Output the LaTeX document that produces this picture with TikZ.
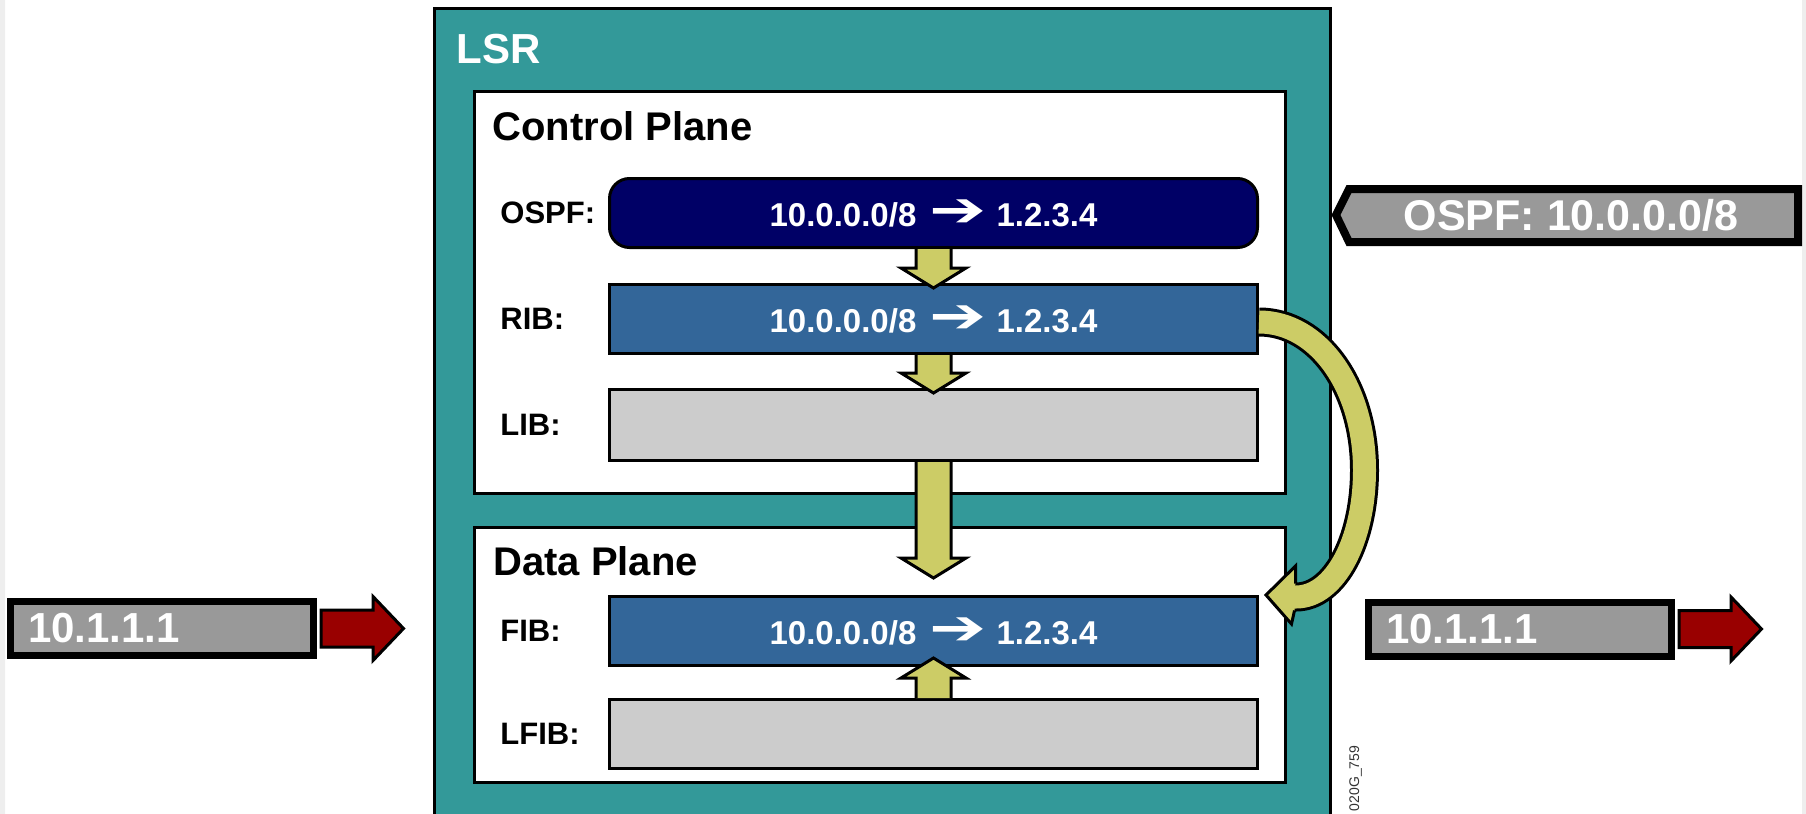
\documentclass[tikz,border=0pt]{standalone}
\usepackage{fontspec}
\setmainfont{Liberation Sans}
\newfontfamily\symfont{DejaVu Sans}
\usetikzlibrary{calc}
\definecolor{lsrteal}{HTML}{339999}
\definecolor{ospfnavy}{HTML}{000066}
\definecolor{tableblue}{HTML}{336699}
\definecolor{emptygray}{HTML}{CCCCCC}
\definecolor{flowyellow}{HTML}{CCCC66}
\definecolor{msggray}{HTML}{999999}
\definecolor{pktred}{HTML}{990000}
\definecolor{edgegray}{HTML}{EEEEEE}
\newcommand\fsz[1]{\fontsize{#1}{#1}\selectfont}
\newcommand\maparrow{\kern6.5pt\scalebox{1.55}[1.1]{\symfont\fsz{22pt}➔}\kern5pt}
\newcommand\flowarrow[3]{\filldraw[flowshape] ($(#1)+(-17.5,0)$) -- ($(#2)+(-17.5,{-(#3)})$) -- ($(#2)+(-32.5,{-(#3)})$) -- (#2) -- ($(#2)+(32.5,{-(#3)})$) -- ($(#2)+(17.5,{-(#3)})$) -- ($(#1)+(17.5,0)$);}
\newcommand\pktarrow[1]{\filldraw[pktshape] ($(#1.east)+(4,-18.5)$) -- ++(52,0) -- ++(0,-13.5) -- ++(30.5,32) -- ++(-30.5,32) -- ++(0,-13.5) -- ++(-52,0) -- cycle;}
\begin{document}
\begin{tikzpicture}[x=0.5pt,y=-0.5pt,
  tablebox/.style={draw,line width=1.5pt,minimum width=324pt,minimum height=34.5pt,inner sep=0pt,text=white,font=\bfseries\fsz{16.5pt}},
  tagtext/.style={anchor=west,inner sep=0pt,font=\bfseries\fsz{15.5pt}},
  planetitle/.style={anchor=base west,inner sep=0pt,font=\bfseries\fsz{20pt}},
  planebox/.style={draw,line width=1.5pt,fill=white},
  flowshape/.style={draw,line width=1.5pt,fill=flowyellow,line join=miter},
  msgshape/.style={draw,line width=4pt,fill=msggray,line join=miter},
  inbox/.style={draw,line width=3.5pt,fill=msggray,minimum height=27pt,text width=134pt,inner xsep=8.75pt,inner ysep=0pt,align=left,text=white,font=\bfseries\fsz{21pt}},
  pktshape/.style={draw,line width=1.5pt,fill=pktred,line join=miter}]
\useasboundingbox (0,0) rectangle (1806,814);
\fill[edgegray] (0,0) rectangle (5,814) (1802,0) rectangle (1806,814);
\filldraw[line width=1.5pt,fill=lsrteal] (434.5,830) -- (434.5,8.5) -- (1330.5,8.5) -- (1330.5,830);
\node[planetitle,text=white,font=\bfseries\fsz{21pt}] (lsr) at (456,63) {LSR};
\draw[planebox] (474.5,91.5) rectangle (1285.5,493.5);
\draw[planebox] (474.5,527.5) rectangle (1285.5,782.5);
\node[planetitle] (ctrl) at (492,140) {Control Plane};
\node[planetitle] (data) at (493,575) {Data Plane};
\node[tablebox,fill=ospfnavy,rounded corners=10pt] (ospf) at (933.5,213) {10.0.0.0/8\maparrow 1.2.3.4};
\node[tablebox,fill=tableblue] (rib) at (933.5,319) {10.0.0.0/8\maparrow 1.2.3.4};
\node[tablebox,fill=emptygray,minimum height=35.5pt] (lib) at (933.5,425) {};
\node[tablebox,fill=tableblue] (fib) at (933.5,631) {10.0.0.0/8\maparrow 1.2.3.4};
\node[tablebox,fill=emptygray] (lfib) at (933.5,734) {};
\node[tagtext] (tospf) at (500,213) {OSPF:};
\node[tagtext] (trib) at (500,319) {RIB:};
\node[tagtext] (tlib) at (500,425) {LIB:};
\node[tagtext] (tfib) at (500,631) {FIB:};
\node[tagtext] (tlfib) at (500,734) {LFIB:};
\coordinate (t1) at ($(rib.north)+(0,5)$);
\coordinate (t2) at ($(lib.north)+(0,5)$);
\coordinate (t3) at ($(fib.north)+(0,-17)$);
\coordinate (t4) at ($(fib.south)+(0,-9)$);
\flowarrow{ospf.south}{t1}{20}
\flowarrow{rib.south}{t2}{20}
\flowarrow{lib.south}{t3}{20}
\flowarrow{lfib.north}{t4}{-20}
\coordinate (cs) at ($(rib.east)+(0,3)$);
\coordinate (ct) at ($(fib.north east)+(7,0)$);
\draw[line width=1.5pt,double=flowyellow,double distance=11.5pt] (cs) .. controls +(60,0) and +(0,-82) .. ($(cs)+(105.5,148)$) .. controls +(0,70) and +(39,0) .. ($(ct)+(30,2)$) -- ($(ct)+(24,2)$);
\filldraw[flowshape] ($(ct)+(29.5,-11.5)$) -- ($(ct)+(29.5,-29)$) -- (ct) -- ($(ct)+(25.5,29)$) -- ($(ct)+(28.5,15.5)$);
\filldraw[msgshape] (1336,215) -- (1349,189) -- (1798,189) -- (1798,242) -- (1349,242) -- cycle;
\node[text=white,font=\bfseries\fsz{21.5pt},inner sep=0pt] (ospfmsg) at (1571,215.5) {OSPF: 10.0.0.0/8};
\node[inbox] (pktin) at (162,628.5) {10.1.1.1};
\node[inbox] (pktout) at (1520,629) {10.1.1.1};
\pktarrow{pktin}
\pktarrow{pktout}
\node[rotate=90,inner sep=0pt,text=black!80,font=\fsz{7pt}] (figid) at (1355.5,778.5) {020G\_759};
\end{tikzpicture}
\end{document}
